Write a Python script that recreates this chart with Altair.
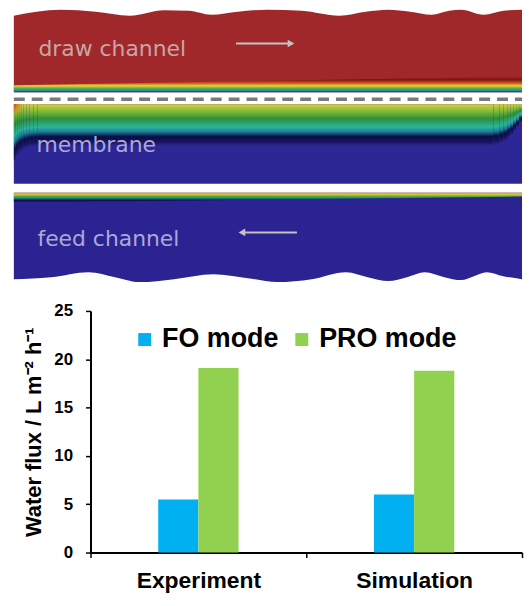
import altair as alt
import pandas as pd

# ---------------- bar chart data ----------------
categories = ["Experiment", "Simulation"]
modes = ["FO mode", "PRO mode"]
fo_flux = [5.5, 6.0]
pro_flux = [19.1, 18.8]
bar_colors = ["#00B0F0", "#92D050"]
y_ticks = [0, 5, 10, 15, 20, 25]

# ---------------- illustration data (reference pixel units) ----------------
# draw channel: wavy upper edge
draw_x = [12, 35, 60, 95, 130, 165, 190, 213, 240, 270, 305, 343, 370, 393, 415, 437, 455, 467, 490, 510, 529]
draw_y = [14, 10, 8, 10, 14, 8.5, 9, 13, 10, 8, 9, 14, 10, 8, 10, 13, 9, 8, 13, 9, 8]
draw_bottom = 91
# concentration boundary layer at bottom of draw channel
draw_bl_x = [12, 529]
draw_bl_top = [84, 75]

# feed channel: wavy lower edge
feed_x = [12, 50, 88, 115, 140, 175, 215, 250, 280, 315, 350, 372, 393, 412, 430, 450, 467, 480, 493, 510, 529]
feed_y = [279, 277, 272, 277, 282, 279, 274, 278, 282, 279, 272, 277, 281, 277, 272, 277, 280, 276, 272, 276, 279]
feed_top = 192
feed_bl_x = [12, 529]
feed_bl_bottom = [202, 196]

# membrane
mem_x = [12, 529]
mem_y = [103, 183]
mem_col_x0 = [12, 14, 16, 18, 20, 22, 25, 28, 32, 36, 500, 506, 510, 514, 517, 520, 523, 526]
mem_col_x1 = [14, 16, 18, 20, 22, 25, 28, 32, 36, 500, 506, 510, 514, 517, 520, 523, 526, 529]
mem_col_bottom = [160, 156, 153, 151, 149.5, 148, 147, 146, 145.5, 145, 144, 142, 140, 137, 134, 130, 126, 121]

dash_x = [12, 529]
dash_y = 98

draw_label = ["draw channel"]
mem_label = ["membrane"]
feed_label = ["feed channel"]
label_x = [37, 35, 36]
label_y = [55, 151, 246]

arrow_x0 = [238, 246]
arrow_x1 = [292, 300]
arrow_y = [42, 232]
head_x = [294, 244]
head_shape = ["triangle-right", "triangle-left"]

FONT = "Liberation Sans"
XS = alt.Scale(domain=[90, 529], nice=False, zero=False)
YS = alt.Scale(domain=[8, 282], nice=False, zero=False, reverse=True)


def gradient(stops, vertical=True):
    return alt.Gradient(
        gradient="linear",
        stops=[alt.GradientStop(offset=o, color=c) for o, c in stops],
        x1=0, y1=0, x2=0 if vertical else 1, y2=1 if vertical else 0,
    )


def xq(f):
    return alt.X(f, scale=XS, axis=None)


def yq(f):
    return alt.Y(f, scale=YS, axis=None)


draw_df = pd.DataFrame({"x": draw_x, "y": draw_y, "y2": [draw_bottom] * len(draw_x)})
draw_area = alt.Chart(draw_df).mark_area(interpolate="monotone", color="#A0282B").encode(
    x=xq("x:Q"), y=yq("y:Q"), y2="y2:Q")

draw_bl_df = pd.DataFrame({"x": draw_bl_x, "y": draw_bl_top, "y2": [draw_bottom, draw_bottom]})
draw_bl = alt.Chart(draw_bl_df).mark_area(
    color=gradient([
        (0.0, "#A0282B"), (0.22, "#7A1414"), (0.45, "#D8641C"), (0.6, "#E8D23A"),
        (0.75, "#5FAF3A"), (0.88, "#1E9A9A"), (1.0, "#2C2592"),
    ])
).encode(x=xq("x:Q"), y=yq("y:Q"), y2="y2:Q")

feed_df = pd.DataFrame({"x": feed_x, "y": [feed_top] * len(feed_x), "y2": feed_y})
feed_area = alt.Chart(feed_df).mark_area(interpolate="monotone", color="#2B2391").encode(
    x=xq("x:Q"), y=yq("y:Q"), y2="y2:Q")

feed_bl_df = pd.DataFrame({"x": feed_bl_x, "y": [feed_top] * 2, "y2": feed_bl_bottom})
feed_bl = alt.Chart(feed_bl_df).mark_area(
    color=gradient([
        (0.0, "#D9902A"), (0.18, "#D8C838"), (0.36, "#5FAF3A"), (0.55, "#1E8A80"),
        (0.78, "#0C0C4A"), (1.0, "#2B2391"),
    ])
).encode(x=xq("x:Q"), y=yq("y:Q"), y2="y2:Q")

mem_df = pd.DataFrame({"x0": [mem_x[0]], "x1": [mem_x[1]], "y0": [mem_y[0]], "y1": [mem_y[1]]})
mem_base = alt.Chart(mem_df).mark_rect(color="#2C2794").encode(
    x=xq("x0:Q"), x2="x1:Q", y=yq("y0:Q"), y2="y1:Q")

mem_col_df = pd.DataFrame({"x0": mem_col_x0, "x1": mem_col_x1,
                           "y0": [mem_y[0]] * len(mem_col_x0), "y1": mem_col_bottom})
mem_grad = alt.Chart(mem_col_df).mark_rect(
    color=gradient([
        (0.0, "#D8D03C"), (0.18, "#7DB83A"), (0.35, "#2E8F3A"), (0.55, "#2BB59E"),
        (0.66, "#1E7F96"), (0.78, "#0A0C45"), (0.9, "#17145E"), (1.0, "#2C2794"),
    ])
).encode(x=xq("x0:Q"), x2="x1:Q", y=yq("y0:Q"), y2="y1:Q")

corner_df = pd.DataFrame({"x0": [12], "x1": [19], "y0": [103], "y1": [112]})
corner = alt.Chart(corner_df).mark_rect(
    color=alt.Gradient(gradient="linear", x1=0, y1=0, x2=1, y2=1, stops=[
        alt.GradientStop(offset=0, color="rgba(200,50,30,0.95)"),
        alt.GradientStop(offset=0.5, color="rgba(228,130,35,0.6)"),
        alt.GradientStop(offset=1, color="rgba(220,200,60,0)"),
    ])
).encode(x=xq("x0:Q"), x2="x1:Q", y=yq("y0:Q"), y2="y1:Q")

dash_df = pd.DataFrame({"x0": [dash_x[0]], "x1": [dash_x[1]], "y": [dash_y]})
dash = alt.Chart(dash_df).mark_rule(color="#7A7A7A", strokeWidth=3.5, strokeDash=[11, 7]).encode(
    x=xq("x0:Q"), x2="x1:Q", y=yq("y:Q"))


def label_layer(text, i, color):
    df = pd.DataFrame({"x": [label_x[i]], "y": [label_y[i]], "t": text})
    return alt.Chart(df).mark_text(align="left", baseline="alphabetic", font="DejaVu Sans",
                                   fontSize=22, color=color).encode(
        x=xq("x:Q"), y=yq("y:Q"), text="t:N")


lab_draw = label_layer(draw_label, 0, "#C9A5A7")
lab_mem = label_layer(mem_label, 1, "#ABA8D8")
lab_feed = label_layer(feed_label, 2, "#ABA8D8")

arr_df = pd.DataFrame({"x0": arrow_x0, "x1": arrow_x1, "y": arrow_y, "hx": head_x, "shape": head_shape})
arr_line = alt.Chart(arr_df).mark_rule(color="#C9BFC4", strokeWidth=2).encode(
    x=xq("x0:Q"), x2="x1:Q", y=yq("y:Q"))
arr_head = alt.Chart(arr_df).mark_point(filled=True, size=60, color="#C9BFC4", opacity=1).encode(
    x=xq("hx:Q"), y=yq("y:Q"), shape=alt.Shape("shape:N", scale=None, legend=None))

top = alt.layer(draw_area, draw_bl, feed_area, feed_bl, mem_base, mem_grad, corner,
                dash, lab_draw, lab_mem, lab_feed, arr_line, arr_head).properties(width=434, height=274)

# ---------------- bar chart ----------------
bars_df = pd.DataFrame({
    "cat": categories + categories,
    "mode": [modes[0]] * 2 + [modes[1]] * 2,
    "flux": fo_flux + pro_flux,
})

x_enc = alt.X("cat:N", sort=categories, scale=alt.Scale(paddingInner=0, paddingOuter=0),
              axis=alt.Axis(title=None, labelAngle=0, tickBand="extent", labelFont=FONT,
                            labelFontSize=23, labelFontWeight="bold", labelColor="black",
                            labelPadding=12, tickSize=5, tickColor="black", tickWidth=1.5,
                            domainColor="black", domainWidth=2))
y_enc = alt.Y("flux:Q", scale=alt.Scale(domain=[0, 25], nice=False),
              axis=alt.Axis(values=y_ticks, title="Water flux / L m⁻² h⁻¹", titleFont=FONT,
                            titleFontSize=22, titleFontWeight="bold", titleColor="black",
                            titlePadding=8, labelFont=FONT, labelFontSize=17,
                            labelFontWeight="bold", labelColor="black", labelPadding=13,
                            tickSize=5, tickColor="black", tickWidth=1.5, domainColor="black",
                            domainWidth=2, grid=False))
c_enc = alt.Color("mode:N", scale=alt.Scale(domain=modes, range=bar_colors),
                  legend=alt.Legend(orient="none", legendX=41, legendY=15, direction="horizontal",
                                    title=None, symbolType="square", symbolSize=169,
                                    symbolStrokeWidth=0, labelFontSize=27, labelFont=FONT,
                                    labelFontWeight="bold", labelColor="black", labelOffset=4,
                                    columnPadding=9, symbolOpacity=1))

BW = 40.4
fo_bars = alt.Chart(bars_df).transform_filter(alt.datum.mode == modes[0]).mark_bar(
    width=BW, xOffset=-BW / 2).encode(x=x_enc, y=y_enc, color=c_enc)
pro_bars = alt.Chart(bars_df).transform_filter(alt.datum.mode == modes[1]).mark_bar(
    width=BW, xOffset=BW / 2).encode(x=x_enc, y=y_enc, color=c_enc)

bottom = alt.layer(fo_bars, pro_bars).properties(width=434, height=243)

chart = alt.vconcat(top, bottom, spacing=29, bounds="flush").properties(
    padding={"left": 4, "top": 0, "right": 0, "bottom": 0}
).resolve_scale(color="independent", shape="independent").configure_view(stroke=None).configure_axis(grid=False)

chart.save("out.html", embed_options={"renderer": "svg", "actions": False})
